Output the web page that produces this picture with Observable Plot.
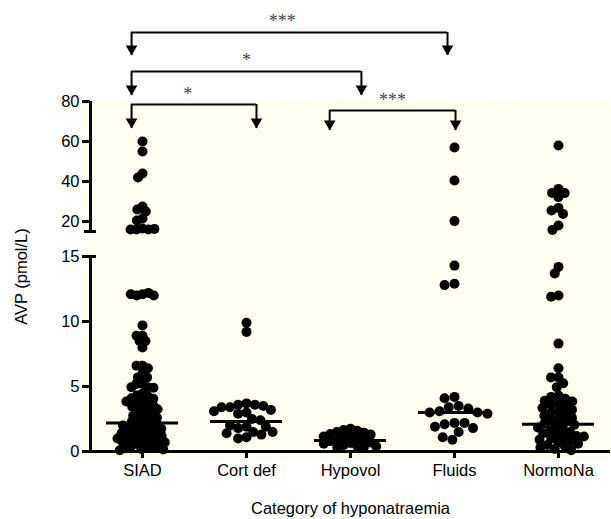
<!DOCTYPE html>
<html><head><meta charset="utf-8">
<script src="https://cdn.jsdelivr.net/npm/d3@7"></script>
<script src="https://cdn.jsdelivr.net/npm/@observablehq/plot@0.6"></script>
<style>body{margin:0;background:#fff;}</style>
</head><body><div id="chart"></div>
<script>
const categories = ["SIAD", "Cort def", "Hypovol", "Fluids", "NormoNa"];
const siad = [60, 55, 44, 42, 27.5, 26, 25, 21.5, 20.5, 16.5, 16, 16, 16, 16.3,
  12.1, 12.0, 12.2, 12.1, 12.0, 9.7, 8.9, 8.9, 8.5, 8.5, 8.0, 6.6, 6.6, 6.4, 6.0, 5.7, 5.7, 5.2, 5.2, 4.95, 4.95, 4.9,
  4.45, 4.3, 4.25, 4.1, 4.05, 3.9, 3.85, 3.75, 3.6, 3.55, 3.45, 3.3, 3.25, 3.1, 3.0, 2.95, 2.8, 2.75, 2.6, 2.55,
  2.45, 2.3, 2.25, 2.15, 2.1, 2.0, 1.9, 1.85, 1.75, 1.7, 1.6, 1.5, 1.45, 1.35, 1.3, 1.2, 1.1, 1.05, 0.95, 0.9,
  0.8, 0.75, 0.65, 0.6, 0.5, 0.45, 0.4, 0.3, 0.25, 0.2, 0.15, 0.1, 0.7, 1.0, 1.4, 2.0];
const cortDef = [9.9, 9.2, 3.7, 3.6, 3.6, 3.5, 3.4, 3.4, 3.2, 3.1, 3.0, 2.9, 2.5, 2.4, 1.9, 1.8, 2.0, 1.9, 1.5, 1.4, 1.3, 1.5, 1.1, 1.0];
const hypovol = [1.75, 1.65, 1.6, 1.5, 1.45, 1.35, 1.3, 1.2, 1.15, 1.05, 1.0, 0.9, 0.85, 0.8, 0.7, 0.65, 0.6, 0.5, 0.45, 0.4, 0.35, 0.3];
const fluids = [57, 40.5, 20.2, 14.3, 12.9, 12.8, 4.2, 4.1, 3.5, 3.4, 3.3, 3.1, 3.0, 3.0, 2.9, 2.2, 2.1, 2.2, 1.8, 1.9, 1.5, 0.9, 1.1];
const normoNa = [58, 36.3, 34.3, 34.2, 32.2, 26.8, 25.5, 23.8, 18, 15.8, 14.2, 13.7, 12.0, 11.9, 8.3, 6.4, 5.7, 5.7, 5.25, 4.95,
  4.3, 4.2, 4.05, 3.9, 3.85, 3.7, 3.6, 3.45, 3.35, 3.2, 3.1, 3.0, 2.85, 2.75, 2.6, 2.5, 2.4, 2.25, 2.15, 2.05,
  1.95, 1.85, 1.7, 1.6, 1.5, 1.4, 1.3, 1.2, 1.1, 1.0, 0.9, 0.8, 0.7, 0.6, 0.5, 0.4, 0.3, 0.2, 0.1, 1.15];
const medians = [2.2, 2.3, 0.85, 3.0, 2.1];
const yTicks = [0, 5, 10, 15, 20, 40, 60, 80];
const compFrom = ["SIAD", "SIAD", "SIAD", "Hypovol"];
const compTo = ["Fluids", "Hypovol", "Cort def", "Fluids"];
const compLabel = ["***", "*", "*", "***"];

// ---- layout (not data) ----
const BREAK = 15.001;
const bracketLine = [114.5, 95, 78.5, 75.5];
const bracketTip = [103, 83, 66.5, 65.5];
const offFrom = [-0.105, -0.105, -0.105, -0.2];
const offTo = [-0.067, 0.105, 0.096, 0.01];
const labelShift = [-0.07, 0, -0.06, 0];
const dodgePad = [-4, -1.5, -3, 0, -2.5];

const groups = [siad, cortDef, hypovol, fluids, normoNa];
const medianRows = categories.map((c, i) => ({cat: c, v: medians[i]}));

const idx = c => categories.indexOf(c);
const hSegs = [], ends = [], labels = [];
compFrom.forEach((a, k) => {
  const i0 = idx(a), i1 = idx(compTo[k]);
  const p0 = i0 + 0.5 + offFrom[k], p1 = i1 + 0.5 + offTo[k];
  for (let i = i0; i <= i1; i++) {
    hSegs.push({cat: categories[i], x1: i === i0 ? p0 - i : 0, x2: i === i1 ? p1 - i : 1, y: bracketLine[k]});
  }
  ends.push({cat: a, x: p0 - i0, y1: bracketLine[k], y2: bracketTip[k]});
  ends.push({cat: compTo[k], x: p1 - i1, y1: bracketLine[k], y2: bracketTip[k]});
  const mid = (p0 + p1) / 2 + labelShift[k], mi = Math.floor(mid);
  labels.push({cat: categories[mi], x: mid - mi, y: bracketLine[k], text: compLabel[k]});
});

const axisSegs = [{cat: "SIAD", y1: 0, y2: 15}, {cat: "SIAD", y1: BREAK, y2: 80}];
const caps = [{cat: "SIAD", v: 15}, {cat: "SIAD", v: BREAK}];

const dotMarks = categories.map((c, i) =>
  Plot.dot(groups[i].map(v => ({cat: c, v})),
    Plot.dodgeX({anchor: "middle", padding: dodgePad[i]}, {fx: "cat", y: "v", r: 5, fill: "black"})));

const chart = Plot.plot({
  width: 611,
  height: 519,
  marginLeft: 89,
  marginRight: 0,
  marginTop: 101,
  marginBottom: 68,
  style: {fontFamily: "'Liberation Sans', Arial, Helvetica, sans-serif", background: "transparent", color: "black"},
  fx: {domain: categories, padding: 0, label: null},
  x: {type: "linear", domain: [0, 1], axis: null},
  y: {type: "linear", domain: [0, 15, BREAK, 80], range: [451, 256, 231, 101], axis: null},
  marks: [
    Plot.frame({fill: "#fffef0", stroke: "none", insetLeft: -8, insetTop: -2, insetBottom: -7}),
    Plot.ruleY([0], {strokeWidth: 3}),
    Plot.ruleX(axisSegs, {fx: "cat", x: 0, y1: "y1", y2: "y2", strokeWidth: 3}),
    Plot.ruleY(caps, {fx: "cat", y: "v", x1: 0, x2: 0, insetLeft: -6, insetRight: -6, strokeWidth: 3}),
    Plot.axisY({ticks: yTicks, tickFormat: d => String(d), tickSize: 8, tickPadding: 3, strokeWidth: 3, fontSize: 16.5,
      label: "AVP (pmol/L)", labelAnchor: "center", labelOffset: 75, labelArrow: "none"}),
    Plot.axisFx({anchor: "bottom", tickSize: 7, strokeWidth: 3, tickPadding: 6, fontSize: 16.5,
      label: "Category of hyponatraemia", labelAnchor: "center", labelOffset: 62, labelArrow: "none"}),
    ...dotMarks,
    Plot.tickY(medianRows, {fx: "cat", y: "v", strokeWidth: 3, insetLeft: 16, insetRight: 16}),
    Plot.ruleY(hSegs, {fx: "cat", y: "y", x1: "x1", x2: "x2", strokeWidth: 2}),
    Plot.ruleX(ends, {fx: "cat", x: "x", y1: "y1", y2: "y2", strokeWidth: 2}),
    Plot.dot(ends, {fx: "cat", x: "x", y: "y2", symbol: "triangle", r: 4.3, rotate: 180, fill: "black", stroke: "none", dy: -6.6}),
    Plot.text(labels, {fx: "cat", x: "x", y: "y", text: "text", dy: -5, lineAnchor: "bottom",
      fontFamily: "'Liberation Serif', 'DejaVu Serif', serif", fontSize: 18, fill: "#444"})
  ]
});
document.getElementById("chart").append(chart);
</script>
</body></html>
